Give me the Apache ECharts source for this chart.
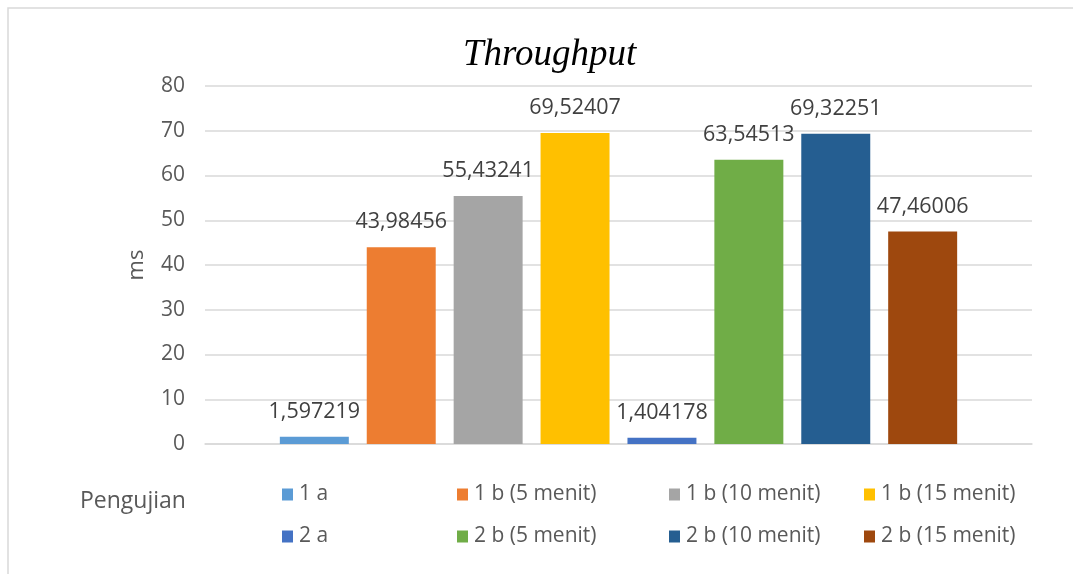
<!DOCTYPE html>
<html><head><meta charset="utf-8">
<script src="https://cdn.jsdelivr.net/npm/echarts@6/dist/echarts.min.js"></script>
<style>html,body{margin:0;padding:0;background:#fff}#c{width:1073px;height:574px}</style>
</head><body><div id="c"></div>
<script>
const categories = ['Pengujian'];
const seriesNames = ['1 a','1 b (5 menit)','1 b (10 menit)','1 b (15 menit)','2 a','2 b (5 menit)','2 b (10 menit)','2 b (15 menit)'];
const seriesValues = [1.597219, 43.98456, 55.43241, 69.52407, 1.404178, 63.54513, 69.32251, 47.46006];
const seriesLabels = ['1,597219','43,98456','55,43241','69,52407','1,404178','63,54513','69,32251','47,46006'];
const colors = ['#5B9BD5','#ED7D31','#A5A5A5','#FFC000','#4472C4','#70AD47','#255E91','#9E480E'];
const yTicks = [0,10,20,30,40,50,60,70,80];

const FONT = 'Open Sans';
const legendPos = [[277,479],[452,479],[664,479],[859,479],[277,521],[452,521],[664,521],[859,521]];

const chart = echarts.init(document.getElementById('c'));
chart.setOption({
  animation: false,
  title: {text: 'Throughput', left: 458, top: 32,
    textStyle: {fontFamily: 'Liberation Serif', fontStyle: 'italic', fontWeight: 'normal', fontSize: 37, color: '#000'}},
  grid: {left: 205, right: 41, top: 86, bottom: 130},
  xAxis: {type: 'category', data: categories,
    axisLine: {lineStyle: {color: '#D9D9D9', width: 1.5}}, axisTick: {show: false}, axisLabel: {show: false}},
  yAxis: {type: 'value', min: yTicks[0], max: yTicks[yTicks.length-1], interval: 10,
    name: 'ms', nameLocation: 'middle', nameGap: 57, nameRotate: 90,
    nameTextStyle: {fontFamily: FONT, fontSize: 22, color: '#595959'},
    axisLine: {show: false}, axisTick: {show: false},
    axisLabel: {fontFamily: FONT, fontSize: 21, color: '#595959', margin: 20},
    splitLine: {lineStyle: {color: '#D9D9D9', width: 1.5}}},
  legend: seriesNames.map((n, i) => ({
    data: [n], left: legendPos[i][0], top: legendPos[i][1], itemWidth: 11, itemHeight: 12, itemGap: 0,
    icon: 'rect', textStyle: {fontFamily: FONT, fontSize: 21, color: '#595959', padding: [0,0,0,1]}
  })),
  graphic: [
    {type: 'rect', shape: {x: 8, y: 8, width: 1200, height: 700}, style: {fill: 'none', stroke: '#D9D9D9', lineWidth: 1.5}, silent: true},
    {type: 'text', left: 80, top: 490, style: {text: 'Pengujian', font: '23px "Open Sans"', fill: '#595959'}}
  ],
  series: seriesNames.map((n, i) => ({
    name: n, type: 'bar', data: [seriesValues[i]],
    barGap: '26%', barCategoryGap: '18.1%',
    itemStyle: {color: colors[i]},
    label: {show: true, position: 'top', distance: 14, fontFamily: FONT, fontSize: 21.5, color: '#404040',
      formatter: () => seriesLabels[i]}
  }))
});
</script></body></html>
